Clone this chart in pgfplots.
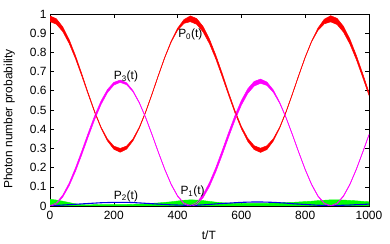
\documentclass[border=0pt]{standalone}
\usepackage{fontspec}
\setmainfont{Liberation Sans}
\usepackage{pgfplots}
\pgfplotsset{compat=1.18}
\usepackage{pgfplotstable}
\usepgfplotslibrary{fillbetween}
\definecolor{gred}{RGB}{255,0,0}
\definecolor{ggreen}{RGB}{0,255,0}
\definecolor{gblue}{RGB}{0,0,230}
\definecolor{gmag}{RGB}{255,0,255}
\pgfplotstableread{
t p0 h0 p3 h3 g b
0 0.975 0.015 0.000 0.002 0.035 0.002
20 0.9611 0.014 0.0132 0.003 0.031 0.003
40 0.9206 0.012 0.0516 0.005 0.025 0.005
60 0.8568 0.010 0.1122 0.007 0.018 0.007
80 0.7748 0.008 0.1900 0.009 0.011 0.009
100 0.6812 0.006 0.2787 0.010 0.007 0.011
120 0.5838 0.004 0.3712 0.010 0.006 0.013
140 0.4902 0.003 0.4600 0.010 0.007 0.015
160 0.4082 0.003 0.5378 0.009 0.008 0.017
180 0.3444 0.005 0.5984 0.008 0.008 0.018
200 0.3039 0.008 0.6368 0.007 0.008 0.019
220 0.2900 0.010 0.6500 0.006 0.008 0.019
240 0.3039 0.008 0.6368 0.005 0.008 0.019
260 0.3444 0.005 0.5984 0.003 0.009 0.018
280 0.4082 0.003 0.5378 0.002 0.010 0.016
300 0.4902 0.002 0.4600 0.002 0.012 0.014
320 0.5838 0.002 0.3712 0.002 0.014 0.012
340 0.6812 0.002 0.2787 0.002 0.016 0.010
360 0.7748 0.002 0.1900 0.002 0.019 0.008
380 0.8568 0.003 0.1122 0.002 0.022 0.006
400 0.9206 0.005 0.0516 0.002 0.026 0.005
420 0.9611 0.010 0.0132 0.002 0.030 0.004
440 0.975 0.015 0.000 0.003 0.032 0.003
460 0.9611 0.015 0.0132 0.005 0.031 0.004
480 0.9206 0.014 0.0516 0.008 0.028 0.006
500 0.8568 0.012 0.1122 0.010 0.024 0.008
520 0.7748 0.010 0.1900 0.011 0.020 0.011
540 0.6812 0.009 0.2787 0.012 0.017 0.013
560 0.5838 0.007 0.3712 0.012 0.015 0.015
580 0.4902 0.006 0.4600 0.012 0.014 0.017
600 0.4082 0.006 0.5378 0.012 0.014 0.019
620 0.3444 0.008 0.5984 0.012 0.014 0.020
640 0.3039 0.010 0.6368 0.012 0.014 0.021
660 0.2900 0.011 0.6500 0.011 0.014 0.021
680 0.3039 0.010 0.6368 0.009 0.014 0.020
700 0.3444 0.006 0.5984 0.006 0.015 0.019
720 0.4082 0.003 0.5378 0.003 0.016 0.017
740 0.4902 0.002 0.4600 0.002 0.018 0.015
760 0.5838 0.002 0.3712 0.002 0.019 0.012
780 0.6812 0.002 0.2787 0.002 0.021 0.010
800 0.7748 0.002 0.1900 0.002 0.023 0.008
820 0.8568 0.002 0.1122 0.002 0.025 0.006
840 0.9206 0.006 0.0516 0.002 0.028 0.004
860 0.9611 0.012 0.0132 0.002 0.030 0.003
880 0.975 0.016 0.000 0.002 0.032 0.002
900 0.9611 0.016 0.0132 0.002 0.032 0.003
920 0.9206 0.015 0.0516 0.002 0.031 0.004
940 0.8568 0.013 0.1122 0.002 0.029 0.005
960 0.7748 0.011 0.1900 0.002 0.027 0.007
980 0.6812 0.010 0.2787 0.002 0.024 0.008
1000 0.5838 0.008 0.3712 0.002 0.022 0.010
}\datatab
\begin{document}
\begin{tikzpicture}[font=\fontsize{12}{14}\selectfont]
\begin{axis}[name=ax, scale only axis, width=319bp, height=192bp,
  xmin=0, xmax=1000, ymin=0, ymax=1,
  xtick={0,200,400,600,800,1000},
  ytick={0,0.1,0.2,0.3,0.4,0.5,0.6,0.7,0.8,0.9,1},
  /pgf/number format/assume math mode=true,
  /pgf/number format/fixed,
  /pgf/number format/1000 sep={},
  tick label style={font=\fontsize{12}{14}\selectfont},
  xticklabel style={yshift=-2bp},
  label style={font=\fontsize{12}{14}\selectfont},
  xlabel={t/T}, ylabel={Photon number probability},
  xlabel style={at={(axis description cs:0.498,-0.154)}, anchor=center},
  ylabel style={at={(axis description cs:-0.128,0.453)}, anchor=center},
  axis line style={black, line width=0.7pt},
  tick style={black, line width=0.6pt},
  major tick length=4bp,
  tick align=inside,
]
% P0 red
\addplot[name path=p0hi, draw=gred, line width=0.5pt, forget plot] table[x=t, y expr=\thisrow{p0}+\thisrow{h0}] {\datatab};
\addplot[name path=p0lo, draw=gred, line width=0.5pt, forget plot] table[x=t, y expr=\thisrow{p0}-\thisrow{h0}] {\datatab};
\addplot[gred, forget plot] fill between[of=p0hi and p0lo];
% P1 green
\addplot[draw=ggreen, fill=ggreen, line width=0.4pt, forget plot] table[x=t, y=g] {\datatab} \closedcycle;
% P2 blue
\addplot[draw=gblue, line width=1.1pt, forget plot] table[x=t, y=b] {\datatab};
% P3 magenta
\addplot[name path=p3hi, draw=gmag, line width=0.5pt, forget plot] table[x=t, y expr=\thisrow{p3}+\thisrow{h3}] {\datatab};
\addplot[name path=p3lo, draw=gmag, line width=0.5pt, forget plot] table[x=t, y expr=\thisrow{p3}-\thisrow{h3}] {\datatab};
\addplot[gmag, forget plot] fill between[of=p3hi and p3lo];
\node at (axis cs:440,0.895) {P\textsubscript{0}(t)};
\node at (axis cs:238,0.675) {P\textsubscript{3}(t)};
\node at (axis cs:238,0.052) {P\textsubscript{2}(t)};
\node at (axis cs:447,0.076) {P\textsubscript{1}(t)};
\end{axis}
\pgfresetboundingbox
\path (ax.south west) ++(-50bp,-38bp) (ax.north east) ++(21bp,14bp);
\end{tikzpicture}
\end{document}
